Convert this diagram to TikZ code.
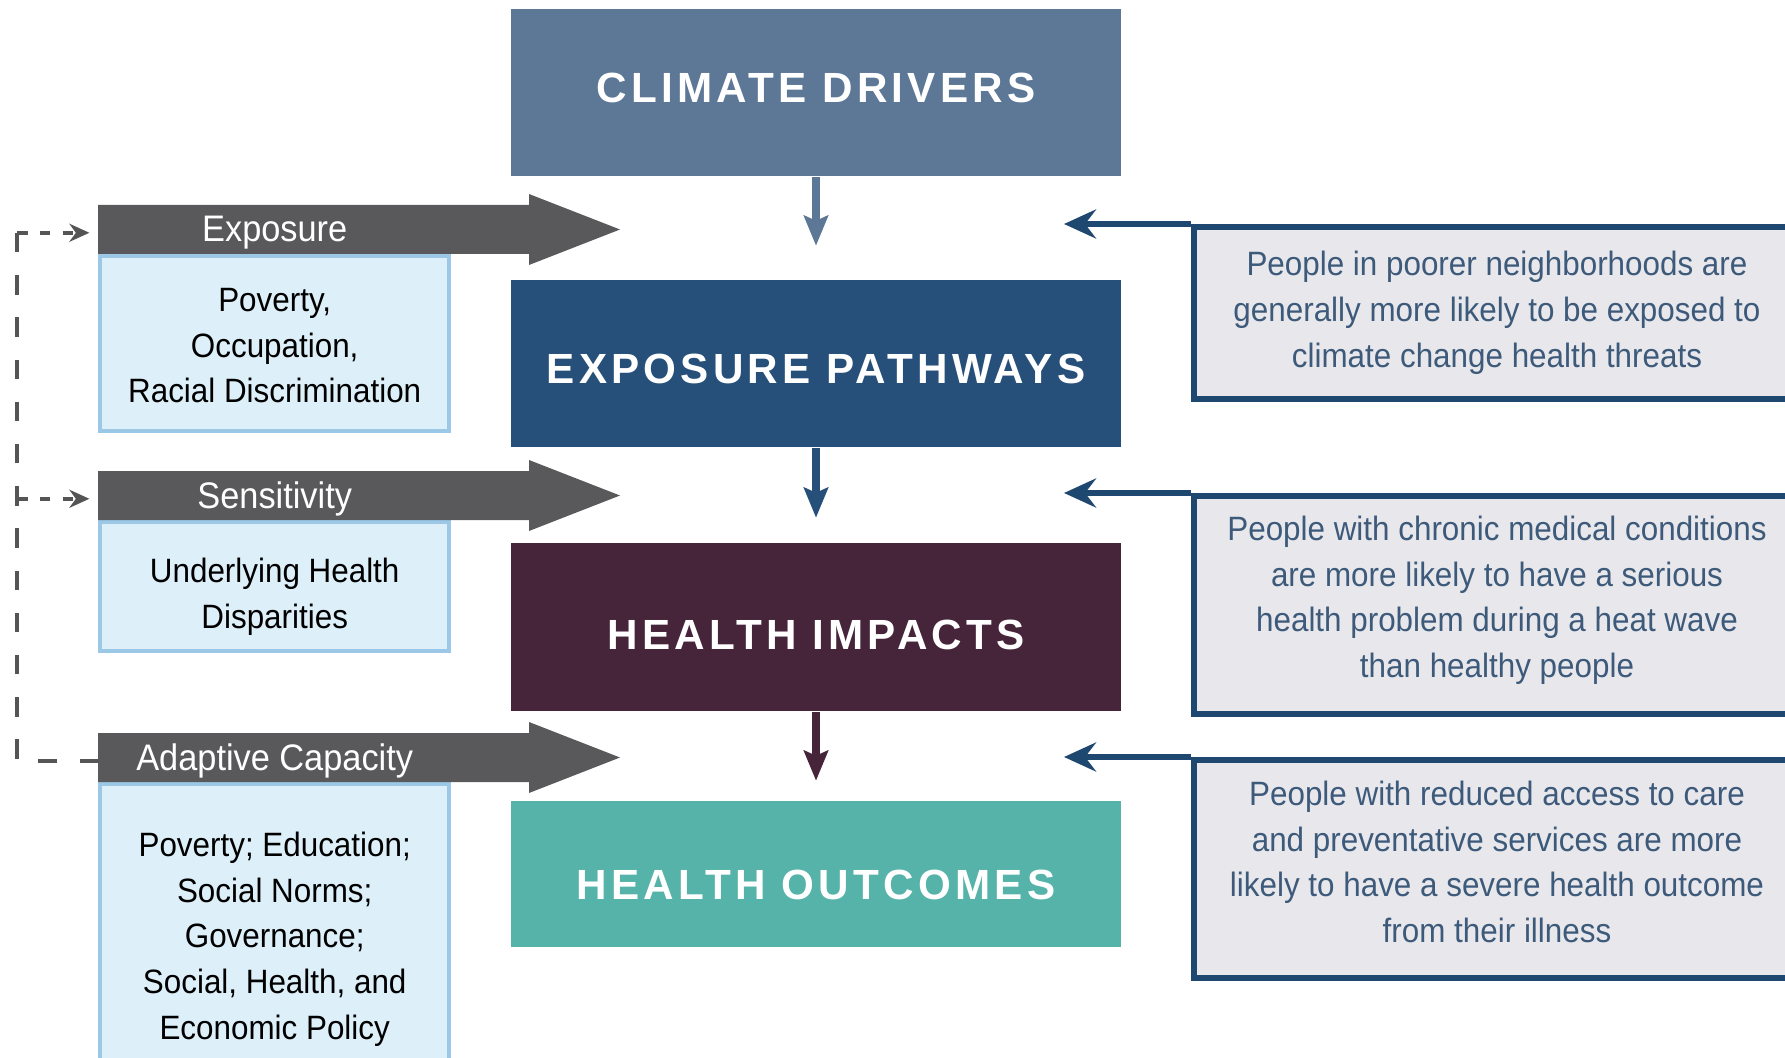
\documentclass[tikz,border=0pt]{standalone}
\usepackage{fontspec}
\setmainfont{Liberation Sans}
\newfontfamily\bodyfont[FakeStretch=0.93]{Liberation Sans}
\newfontfamily\titlefont[LetterSpace=10]{Liberation Sans}
\usetikzlibrary{arrows.meta,positioning,calc}

\definecolor{cdblue}{HTML}{5D7897}
\definecolor{epblue}{HTML}{26507A}
\definecolor{himaroon}{HTML}{46243A}
\definecolor{hoteal}{HTML}{56B3A9}
\definecolor{bandgrey}{HTML}{59595B}
\definecolor{infofill}{HTML}{DDEFF9}
\definecolor{infoline}{HTML}{9BC8E6}
\definecolor{notefill}{HTML}{E8E8EC}
\definecolor{noteline}{HTML}{1E4870}
\definecolor{notetext}{HTML}{3D5A7A}
\definecolor{railgrey}{HTML}{555555}

\tikzset{
  mainbox/.style={minimum width=6.1cm, inner sep=0pt},
  maintext/.style={inner sep=0pt, text=white,
    font=\titlefont\bfseries\fontsize{12}{14}\selectfont},
  infobox/.style={fill=infofill, draw=infoline, line width=1.2pt,
    minimum width=3.49cm, inner sep=0pt},
  infotext/.style={inner sep=0pt, align=center,
    font=\bodyfont\fontsize{9.6}{13}\selectfont},
  bandlbl/.style={minimum width=3.49cm, minimum height=0.49cm, inner sep=0pt,
    text=white, font=\bodyfont\fontsize{10.5}{12}\selectfont},
  notebox/.style={fill=notefill, draw=noteline, line width=1.6pt,
    minimum width=6.06cm, inner sep=0pt},
  notetxt/.style={inner sep=0pt, align=center, text=notetext,
    font=\bodyfont\fontsize{9.6}{13}\selectfont},
  downarrow/.style={line width=2pt, -{Stealth[length=3mm,width=2.4mm,inset=0.5mm]}},
  notearrow/.style={noteline, line width=1.6pt, -{Stealth[length=3.2mm,width=2.9mm,inset=1.1mm]}},
  railline/.style={railgrey, line width=1pt, dash pattern=on 5.5pt off 6.5pt},
  railshort/.style={railgrey, line width=1pt, dash pattern=on 3pt off 3.5pt}
}

\begin{document}
\begin{tikzpicture}[x=0.01cm, y=-0.01cm]
\useasboundingbox (0,0) rectangle (1785,1058);

% central chain
\node[mainbox, fill=cdblue, minimum height=1.67cm] (CD) at (816,92.5) {};
\node[mainbox, fill=epblue, minimum height=1.67cm] (EP) at (816,363.5) {};
\node[mainbox, fill=himaroon, minimum height=1.68cm] (HI) at (816,627) {};
\node[mainbox, fill=hoteal, minimum height=1.46cm] (HO) at (816,874) {};
\node[maintext] (CDtxt) at ([yshift=0.5mm]CD.center) {CLIMATE DRIVERS};
\node[maintext] (EPtxt) at ([yshift=-0.5mm]EP.center) {EXPOSURE PATHWAYS};
\node[maintext] (HItxt) at ([yshift=-0.8mm]HI.center) {HEALTH IMPACTS};
\node[maintext] (HOtxt) at ([yshift=-1.1mm]HO.center) {HEALTH OUTCOMES};

\draw[downarrow, cdblue] (CD.south) -- ++(0,69);
\draw[downarrow, epblue] (EP.south) -- ++(0,70);
\draw[downarrow, himaroon] (HI.south) -- ++(0,69);

% left factor boxes
\node[infobox, anchor=north west, minimum height=1.75cm] (expBox) at (98,254) {};
\node[infobox, anchor=north west, minimum height=1.29cm] (sensBox) at (98,520) {};
\node[infobox, anchor=north west, minimum height=3.06cm] (adapBox) at (98,782) {};
\node[infotext] (expTxt) at ([yshift=-0.2mm]expBox.center) {Poverty,\\Occupation,\\Racial Discrimination};
\node[infotext] (sensTxt) at ([yshift=-1mm]sensBox.center) {Underlying Health\\Disparities};
\node[infotext] (adapTxt) at ([yshift=-0.2mm]adapBox.center)
  {Poverty; Education;\\Social Norms;\\Governance;\\Social, Health, and\\Economic Policy};

% grey block arrows
\foreach \bx in {expBox, sensBox, adapBox}{
  \fill[bandgrey] (\bx.north west) -- ++(0,-49) -- ++(431,0) -- ++(0,-11)
    -- ++(91,35.5) -- ++(-91,35.5) -- ++(0,-11) -- cycle;
}
\node[bandlbl, above=-0.4mm of expBox] (expLbl) {Exposure};
\node[bandlbl, above=-0.4mm of sensBox] (sensLbl) {Sensitivity};
\node[bandlbl, above=-0.4mm of adapBox] (adapLbl) {Adaptive Capacity};

% dashed feedback rail
\coordinate (rail) at (17,0);
\draw[railline] (adapLbl.west) -- (rail |- adapLbl.west) -- (rail |- expLbl.west);
\draw[railshort, -{Stealth[length=2mm,width=1.8mm]}] (rail |- expLbl.west) -- ([xshift=-1mm]expLbl.west);
\draw[railshort, -{Stealth[length=2mm,width=1.8mm]}] (rail |- sensLbl.west) -- ([xshift=-1mm]sensLbl.west);

% right notes
\node[notebox, anchor=north west, minimum height=1.72cm] (noteA) at (1191,224) {};
\node[notebox, anchor=north west, minimum height=2.18cm] (noteB) at (1191,493) {};
\node[notebox, anchor=north west, minimum height=2.18cm] (noteC) at (1191,757) {};
\node[notetxt] (noteAtxt) at (noteA.center)
  {People in poorer neighborhoods are\\generally more likely to be exposed to\\climate change health threats};
\node[notetxt] (noteBtxt) at ([yshift=0.45mm]noteB.center)
  {People with chronic medical conditions\\are more likely to have a serious\\health problem during a heat wave\\than healthy people};
\node[notetxt] (noteCtxt) at ([yshift=0.7mm]noteC.center)
  {People with reduced access to care\\and preventative services are more\\likely to have a severe health outcome\\from their illness};

\draw[notearrow] (noteA.north west) -- ++(-127,0);
\draw[notearrow] (noteB.north west) -- ++(-127,0);
\draw[notearrow] (noteC.north west) -- ++(-127,0);

\end{tikzpicture}
\end{document}
